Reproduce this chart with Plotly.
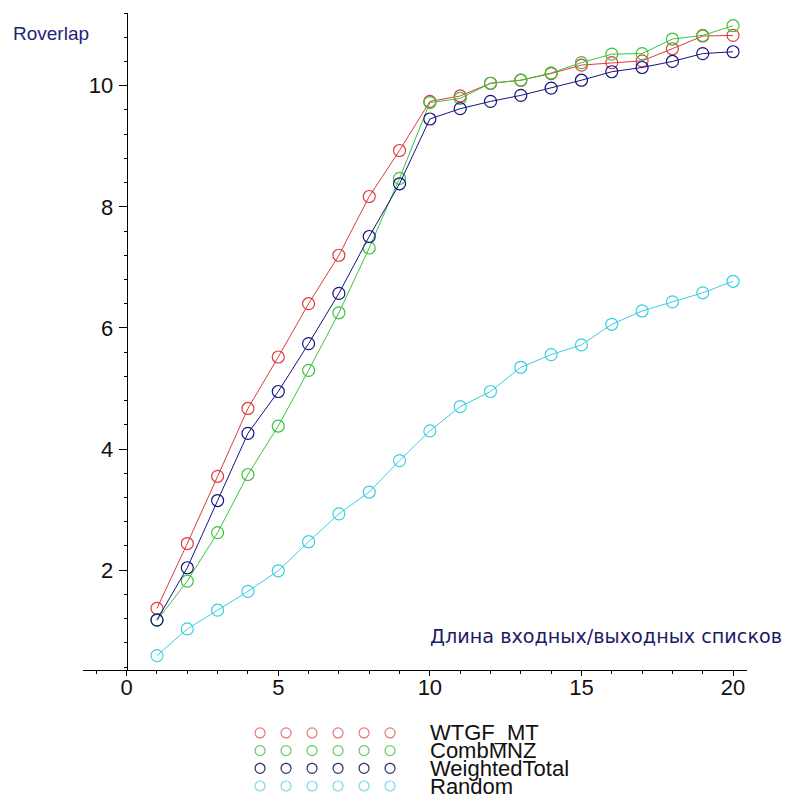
import plotly.graph_objects as go

# ---- data ----
list_length = list(range(1, 21))
series_names = ["WTGF_MT", "CombMNZ", "WeightedTotal", "Random"]
wtgf_mt = [1.37, 2.44, 3.55, 4.67, 5.52, 6.40, 7.20, 8.17, 8.93, 9.74,
           9.83, 10.04, 10.09, 10.20, 10.34, 10.38, 10.41, 10.61, 10.82, 10.83]
comb_mnz = [1.17, 1.82, 2.62, 3.58, 4.38, 5.30, 6.25, 7.32, 8.47, 9.72,
            9.79, 10.04, 10.09, 10.21, 10.38, 10.52, 10.53, 10.77, 10.83, 10.99]
weighted_total = [1.18, 2.04, 3.15, 4.26, 4.95, 5.74, 6.57, 7.51, 8.38, 9.45,
                  9.62, 9.74, 9.84, 9.96, 10.09, 10.23, 10.30, 10.40, 10.53, 10.56]
random_vals = [0.59, 1.03, 1.34, 1.65, 1.99, 2.47, 2.93, 3.29, 3.81, 4.30,
               4.70, 4.95, 5.35, 5.56, 5.72, 6.06, 6.28, 6.43, 6.58, 6.77]
x_tickvals = [0, 5, 10, 15, 20]
y_tickvals = [2, 4, 6, 8, 10]

series_values = [wtgf_mt, comb_mnz, weighted_total, random_vals]
line_colors = ["#de3c3c", "#3cc23c", "#14147e", "#3ccfe0"]
legend_colors = ["#e07a7a", "#62c862", "#2a2a70", "#7ad8e6"]

y_label = "Roverlap"
x_label = "Длина входных/выходных списков"

tick_font = dict(family="Liberation Sans, Arial, sans-serif", size=22, color="#111111")

# figure is placed by the page with an 8 px body margin
W, H = 788, 790
ML, MR, MT = 75, 49, 5
PW, PH = W - ML - MR, H - MT


def px_x(fx):
    return (fx - ML) / PW


def px_y(fy):
    return (H - fy) / PH


fig = go.Figure()

for name, vals, col in zip(series_names, series_values, line_colors):
    fig.add_trace(go.Scatter(
        x=list_length, y=vals, mode="lines+markers", name=name,
        line=dict(color=col, width=1),
        marker=dict(symbol="circle-open", size=12, color=col, line=dict(width=1.2, color=col)),
        showlegend=False, xaxis="x", yaxis="y",
    ))

# Maple-style legend: six sample symbols per series, drawn on a helper axis
n_rows = len(series_names)
for i, (name, col) in enumerate(zip(series_names, legend_colors)):
    row = n_rows - 1 - i
    fig.add_trace(go.Scatter(
        x=list(range(6)), y=[row] * 6, mode="markers",
        marker=dict(symbol="circle-open", size=10, color=col, line=dict(width=1.2, color=col)),
        showlegend=False, hoverinfo="skip", xaxis="x2", yaxis="y2",
    ))
    fig.add_annotation(x=6.45, y=row, xref="x2", yref="y2", text=name,
                       showarrow=False, xanchor="left", yanchor="middle",
                       font=dict(family=tick_font["family"], size=22, color="#111111"))

x_min, x_max = -1.44, 20.46
main_bottom = px_y(661.5)
fig.update_layout(
    width=W, height=H,
    margin=dict(l=ML, r=MR, t=MT, b=0),
    paper_bgcolor="white", plot_bgcolor="white",
    xaxis=dict(
        domain=[0, 1], range=[x_min, x_max], anchor="y",
        showgrid=False, zeroline=False, showline=True, linecolor="black", linewidth=1,
        tickmode="array", tickvals=x_tickvals, ticks="outside", ticklen=5,
        tickcolor="black", tickwidth=1, tickfont=tick_font, ticklabelstandoff=-7,
        minor=dict(dtick=1, ticks="outside", ticklen=3, tickcolor="black", tickwidth=1, showgrid=False),
    ),
    yaxis=dict(
        domain=[main_bottom, 1], range=[0.36, 11.2], anchor="free",
        position=(0 - x_min) / (x_max - x_min),
        showgrid=False, zeroline=False, showline=True, linecolor="black", linewidth=1,
        tickmode="array", tickvals=y_tickvals, ticks="outside", ticklen=8,
        tickcolor="black", tickwidth=1, tickfont=tick_font, ticklabelstandoff=1,
        minor=dict(dtick=0.4, tick0=0, ticks="outside", ticklen=3, tickcolor="black", tickwidth=1, showgrid=False),
    ),
    xaxis2=dict(domain=[0, 1], range=[-6.81, 18.73], anchor="y2", visible=False),
    yaxis2=dict(domain=[0, main_bottom], range=[-0.678, 6.588], anchor="x2", visible=False),
)

fig.add_annotation(x=px_x(3), y=px_y(26), xref="paper", yref="paper", text=y_label,
                   showarrow=False, xanchor="left", yanchor="middle",
                   font=dict(family="Liberation Sans, Arial, sans-serif", size=19, color="#23237a"))

fig.add_annotation(x=px_x(420), y=px_y(628), xref="paper", yref="paper",
                   text=x_label, showarrow=False, xanchor="left", yanchor="middle",
                   font=dict(family="DejaVu Sans, sans-serif", size=19.2, color="#1a1a66"))

fig.write_html("out.html")
